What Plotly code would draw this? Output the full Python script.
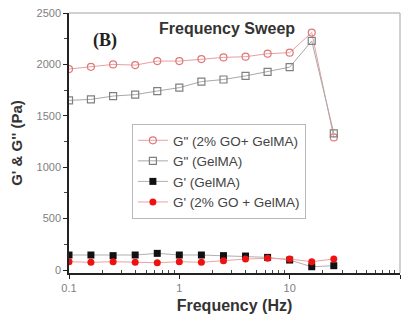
import plotly.graph_objects as go

freq = [0.1, 0.158, 0.251, 0.398, 0.631, 1.0, 1.585, 2.512, 3.981, 6.31, 10.0, 15.85, 25.12]
g2_go = [1955, 1976, 2000, 1993, 2032, 2032, 2052, 2068, 2075, 2104, 2114, 2310, 1290]
g2_gelma = [1650, 1660, 1692, 1706, 1741, 1774, 1833, 1853, 1888, 1927, 1973, 2228, 1330]
g1_gelma = [146, 146, 140, 146, 162, 146, 146, 140, 136, 123, 97, 32, 42]
g1_go = [81, 75, 81, 75, 71, 81, 75, 91, 107, 114, 107, 81, 107]

names = ['G" (2% GO+ GelMA)', 'G" (GelMA)', "G' (GelMA)", "G' (2% GO + GelMA)"]

FONT = "Liberation Sans, Arial, sans-serif"

fig = go.Figure()
fig.add_trace(go.Scatter(x=freq, y=g2_go, name=names[0], mode="lines+markers",
                         line=dict(color="#e8a0a0", width=1),
                         marker=dict(symbol="circle-open", size=7, color="#e07878", line=dict(width=1.2))))
fig.add_trace(go.Scatter(x=freq, y=g2_gelma, name=names[1], mode="lines+markers",
                         line=dict(color="#a8a8a8", width=1),
                         marker=dict(symbol="square-open", size=7, color="#808080", line=dict(width=1.2))))
fig.add_trace(go.Scatter(x=freq, y=g1_gelma, name=names[2], mode="lines+markers",
                         line=dict(color="#b0b0b0", width=1),
                         marker=dict(symbol="square", size=7, color="#111111")))
fig.add_trace(go.Scatter(x=freq, y=g1_go, name=names[3], mode="lines+markers",
                         line=dict(color="#f0a0a0", width=1),
                         marker=dict(symbol="circle", size=7, color="#ee1111")))

fig.update_layout(
    width=408, height=323,
    margin=dict(l=69, r=8, t=13, b=50),
    paper_bgcolor="white", plot_bgcolor="white",
    font=dict(family=FONT, color="#333333"),
    showlegend=True,
    legend=dict(x=0.19, y=0.573, xanchor="left", yanchor="top",
                bgcolor="white", bordercolor="#b8b8b8", borderwidth=1,
                font=dict(size=13.5, color="#444444", family=FONT),
                tracegroupgap=0, itemwidth=30),
    xaxis=dict(type="log", range=[-1, 2],
               showline=True, linecolor="#222222", linewidth=1.5, mirror=False,
               ticks="outside", ticklen=4, tickcolor="#222222",
               tickvals=[0.1, 1, 10, 100], ticktext=["0.1", "1", "10", "100"],
               tickfont=dict(size=11, color="#808080"),
               minor=dict(ticks="inside", ticklen=3, tickcolor="#444444",
                          tickvals=[a * b for b in [0.1, 1, 10] for a in range(2, 10)]),
               showgrid=False, zeroline=False,
               title=dict(text="<b>Frequency (Hz)</b>", font=dict(size=16, color="#333333"), standoff=7)),
    yaxis=dict(range=[-29, 2500],
               showline=True, linecolor="#222222", linewidth=1.5,
               ticks="outside", ticklen=4, tickcolor="#222222",
               tickvals=[0, 500, 1000, 1500, 2000, 2500],
               tickfont=dict(size=11, color="#808080"),
               minor=dict(ticks="outside", ticklen=3, tickcolor="#444444", dtick=250),
               showgrid=False, zeroline=False,
               title=dict(text="<b>G' & G'' (Pa)</b>", font=dict(size=15, color="#333333"), standoff=10)),
)

# frame on top/right
fig.add_shape(type="line", xref="paper", yref="paper", x0=0, x1=1, y0=1, y1=1,
              line=dict(color="#c0c0c0", width=1.5))
fig.add_shape(type="line", xref="paper", yref="paper", x0=1, x1=1, y0=0, y1=1,
              line=dict(color="#c0c0c0", width=1.5))

fig.add_annotation(text="<b>Frequency Sweep</b>", xref="paper", yref="paper",
                   x=0.477, y=0.942, xanchor="center", yanchor="middle", showarrow=False,
                   font=dict(size=16, color="#333333", family=FONT))
fig.add_annotation(text="<b>(B)</b>", xref="paper", yref="paper",
                   x=0.109, y=0.896, xanchor="center", yanchor="middle", showarrow=False,
                   font=dict(size=18, color="#222222", family="Liberation Serif, Times New Roman, serif"))

fig.write_html("out.html")
